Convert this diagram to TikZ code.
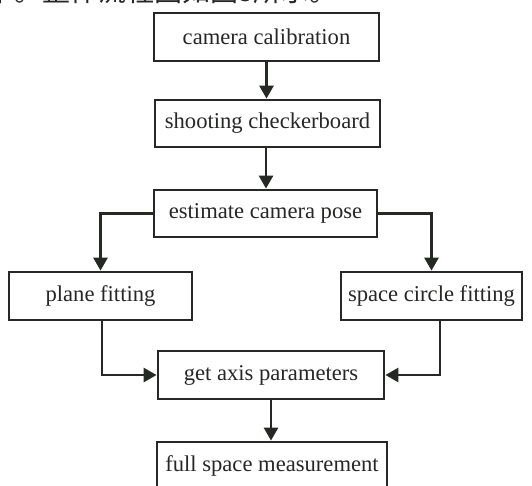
\documentclass[tikz,border=0pt]{standalone}
\usepackage{fontspec}
\setmainfont{Liberation Serif}
\newfontfamily\cjkfont{Noto Sans CJK SC}
\usetikzlibrary{arrows.meta}
\definecolor{ink}{HTML}{262826}
\tikzset{
  stepbox/.style={draw=ink, line width=2.8pt, inner sep=0pt, align=center,
    font=\fontsize{22.6}{26}\selectfont, text=ink},
  flow/.style={draw=ink, line width=2.8pt,
    -{Triangle[length=13pt,width=14pt]}},
}
\begin{document}
\begin{tikzpicture}[x=1pt,y=-1pt]
  \useasboundingbox (0,0) rectangle (532,486);
  \clip (0,0) rectangle (532,486);
  \fill[white] (0,0) rectangle (532,486);

  % line of running text above the chart
  \node[anchor=base west, inner sep=0pt, text=ink,
        font=\cjkfont\fontsize{28}{30}\selectfont] (line) at (-14,2)
        {中。整体流程图如图5所示。};

  % process steps
  \node[stepbox, minimum width=225, minimum height=48] (cal)   at (266.5,37)  {camera calibration};
  \node[stepbox, minimum width=225, minimum height=47] (shoot) at (267.5,123.5) {shooting checkerboard};
  \node[stepbox, minimum width=223, minimum height=47] (est)   at (265.5,213.5) {estimate camera pose};
  \node[stepbox, minimum width=183, minimum height=48] (plane) at (100.5,296) {plane fitting};
  \node[stepbox, minimum width=181, minimum height=48] (circ)  at (431.5,296) {space circle fitting};
  \node[stepbox, minimum width=226, minimum height=48] (axis)  at (271,375) {get axis parameters};
  \node[stepbox, minimum width=230, minimum height=48] (full)  at (272,466) {full space measurement};

  % connectors
  \draw[flow] (cal.south) -- (cal.south |- shoot.north);
  \draw[flow] ([xshift=-1.5]shoot.south) -- ([xshift=-1.5]shoot.south |- est.north);
  \draw[flow] (est.west) -| (plane.north);
  \draw[flow] (est.east) -| (circ.north);
  \draw[flow] ([xshift=1.5]plane.south) |- (axis.west);
  \draw[flow] ([xshift=8.5]circ.south) |- (axis.east);
  \draw[flow] (axis.south) -- (axis.south |- full.north);
\end{tikzpicture}
\end{document}
